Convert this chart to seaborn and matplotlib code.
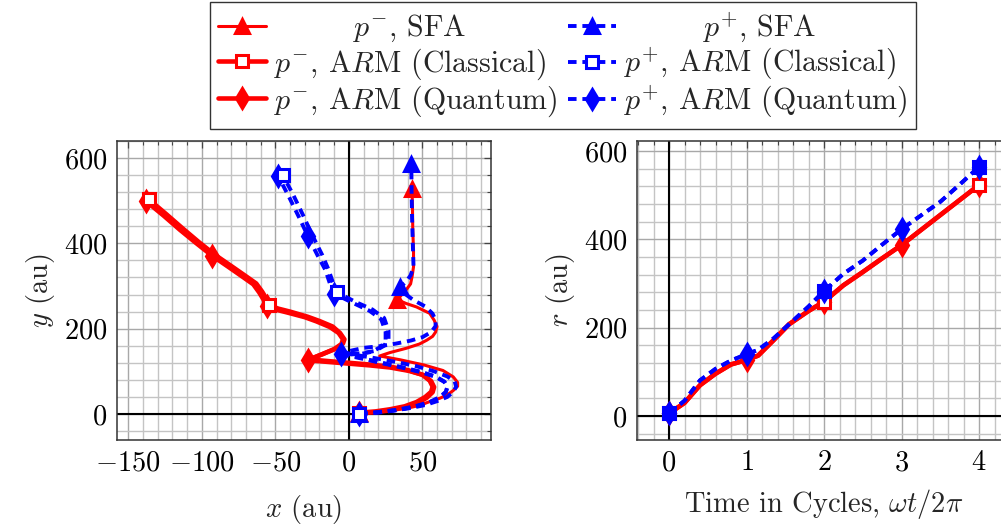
import numpy as np
import matplotlib
matplotlib.use("Agg")
import matplotlib.pyplot as plt
from matplotlib.lines import Line2D
from matplotlib.ticker import MultipleLocator
import seaborn as sns

# ---- trajectories in the (x, y) plane, atomic units ----
# p^- : ARM classical / quantum (nearly coincident) and SFA
red_cl_x = [7, 18, 28, 38, 46, 52, 56, 57, 55, 50, 40, 28, 14, 0, -14, -27,
            -18, -9, -4, -3, -6, -11, -20, -28, -40, -48, -54,
            -56, -59, -63, -70, -80, -91, -102, -113, -124, -136]
red_cl_y = [3, 6, 11, 18, 28, 40, 52, 64, 78, 92, 103, 111, 116, 120, 124, 128,
            140, 153, 165, 175, 190, 205, 218, 228, 240, 247, 255,
            270, 287, 306, 323, 347, 373, 403, 435, 468, 503]
red_qu_x = [7, 18, 29, 39, 47, 53, 57, 58, 56, 51, 41, 28, 14, 0, -14, -28,
            -19, -10, -5, -4, -7, -13, -22, -30, -42, -50, -56,
            -58, -61, -65, -72, -82, -93, -104, -115, -126, -138]
red_qu_y = [2, 4, 9, 16, 26, 38, 51, 63, 77, 91, 101, 109, 114, 118, 122, 126,
            139, 152, 164, 175, 190, 204, 217, 227, 238, 245, 252,
            268, 285, 304, 321, 345, 371, 401, 432, 465, 499]
red_sfa_x = [7, 17, 28, 39, 48, 55, 62, 67, 71, 74, 74, 71, 64, 51, 35, 21,
             28, 39, 48, 53, 57, 59, 60, 58, 55, 46, 39, 33,
             36, 39, 42, 43, 44, 44, 43.5, 43.3, 43]
red_sfa_y = [2, 5, 9, 13, 20, 29, 37, 45, 55, 65, 74, 87, 102, 115, 127, 136,
             144, 154, 164, 173, 182, 192, 205, 220, 236, 251, 259, 268,
             280, 291, 305, 322, 345, 384, 430, 480, 527]

# p^+ : ARM classical / quantum and SFA
blue_cl_x = [7, 20, 33, 45, 55, 62, 66, 67, 65, 59, 49, 37, 24, 10, -4,
             8, 18, 24, 27, 27, 24, 16, 5, -8,
             -11, -14, -18, -25, -31, -38, -45]
blue_cl_y = [0, 4, 10, 18, 28, 40, 52, 64, 76, 88, 99, 109, 119, 130, 142,
             142, 148, 160, 175, 195, 225, 245, 262, 285,
             310, 340, 372, 420, 465, 515, 560]
blue_qu_x = [7, 20, 33, 45, 55, 62, 66, 67, 65, 59, 49, 37, 24, 10, -5,
             7, 16, 22, 25, 25, 22, 14, 3, -10,
             -13, -16, -21, -28, -34, -41, -48]
blue_qu_y = [0, 3, 9, 17, 27, 39, 51, 63, 75, 87, 98, 108, 118, 129, 140,
             140, 146, 158, 173, 193, 222, 242, 260, 282,
             307, 338, 370, 418, 462, 511, 557]
blue_sfa_x = [7, 18, 30, 42, 52, 60, 67, 71, 73, 72, 67, 58, 46, 32, 16, 2, -3,
              10, 21, 32, 42, 50, 56, 59, 59, 57, 52, 44, 38, 35,
              39, 42, 44, 43.5, 43, 42.7, 42.5]
blue_sfa_y = [0, 4, 8, 14, 21, 30, 40, 52, 64, 76, 88, 100, 112, 122, 132, 140, 145,
              155, 159, 165, 172, 180, 192, 206, 220, 235, 252, 267, 282, 298,
              310, 325, 345, 400, 460, 520, 585]

# sample indices that fall on whole laser cycles
red_cl_cycles = [0, 26, 36]
red_qu_cycles = [0, 15, 26, 32, 36]
red_sfa_cycles = [0, 27, 36]
blue_cl_cycles = [0, 23, 30]
blue_qu_cycles = [0, 14, 23, 27, 30]
blue_sfa_cycles = [0, 29, 36]

# ---- distance from the origin versus time ----
t_cycles = [0, 0.2, 0.4, 0.6, 0.8, 1.0, 1.15, 1.35, 1.55, 1.8, 2.0,
            2.25, 2.5, 2.75, 3.0, 3.25, 3.5, 3.75, 4.0]
r_minus = [6, 30, 70, 96, 117, 127, 137, 172, 208, 238, 259,
           296, 326, 357, 387, 421, 455, 489, 523]
r_plus = [6, 35, 81, 107, 126, 140, 150, 176, 208, 248, 283,
          322, 352, 388, 423, 454, 485, 524, 564]
t_marks_even = [0, 10, 18]
t_marks_all = [0, 5, 10, 14, 18]

labels = ["$p^{-}$, SFA", "$p^{-}$, A$R$M (Classical)", "$p^{-}$, A$R$M (Quantum)",
          "$p^{+}$, SFA", "$p^{+}$, A$R$M (Classical)", "$p^{+}$, A$R$M (Quantum)"]

sns.set_theme(style="white")
FS = 20.5
plt.rcParams.update({
    "font.family": "serif",
    "font.serif": ["cmr10"],
    "mathtext.fontset": "cm",
    "axes.formatter.use_mathtext": True,
    "font.size": FS,
    "axes.labelsize": FS,
    "xtick.labelsize": FS,
    "ytick.labelsize": FS,
    "legend.fontsize": 21.5,
})

RED = "#ff0000"
BLUE = "#0000ff"
DASH = (0, (2.2, 1.5))

styles = {
    "red_sfa": dict(color=RED, linestyle="-", lw=2.2, marker="^", ms=10,
                    markerfacecolor=RED),
    "red_cl": dict(color=RED, linestyle="-", lw=3.3, marker="s", ms=8,
                   markerfacecolor="white"),
    "red_qu": dict(color=RED, linestyle="-", lw=3.3, marker="d", ms=10,
                   markerfacecolor=RED),
    "blue_sfa": dict(color=BLUE, linestyle=DASH, lw=2.8, marker="^", ms=10,
                     markerfacecolor=BLUE),
    "blue_cl": dict(color=BLUE, linestyle=DASH, lw=2.8, marker="s", ms=8,
                    markerfacecolor="white"),
    "blue_qu": dict(color=BLUE, linestyle=DASH, lw=2.8, marker="d", ms=10,
                    markerfacecolor=BLUE),
}


def trace(ax, x, y, key, marks, z):
    st = styles[key]
    sns.lineplot(x=x, y=y, ax=ax, sort=False, estimator=None, legend=False,
                 color=st["color"], linestyle=st["linestyle"], linewidth=st["lw"],
                 marker=st["marker"], markevery=marks, markersize=st["ms"],
                 markerfacecolor=st["markerfacecolor"],
                 markeredgecolor=st["color"], markeredgewidth=2.2,
                 solid_joinstyle="round", solid_capstyle="round",
                 dash_capstyle="butt", zorder=z)


fig = plt.figure(figsize=(10.01, 5.29), dpi=100)
ax1 = fig.add_axes([117 / 1001, 1 - 440 / 529, 374 / 1001, 299 / 529])
ax2 = fig.add_axes([637 / 1001, 1 - 440 / 529, 373 / 1001, 299 / 529])

for ax in (ax1, ax2):
    ax.set_facecolor("white")
    ax.grid(which="major", color="#a8a8a8", lw=1.0)
    ax.grid(which="minor", color="#c4c4c4", lw=1.0)
    ax.set_axisbelow(True)
    ax.axhline(0, color="black", lw=1.5, zorder=1.5)
    ax.axvline(0, color="black", lw=1.5, zorder=1.5)
    ax.tick_params(which="both", direction="in", top=True, right=True,
                   color="#444444", labelcolor="black")
    ax.tick_params(which="major", length=5, width=0.9, pad=7)
    ax.tick_params(which="minor", length=3, width=0.8)
    for sp in ax.spines.values():
        sp.set_color("#333333")
        sp.set_linewidth(1.1)

# left: trajectories
trace(ax1, red_sfa_x, red_sfa_y, "red_sfa", red_sfa_cycles, 3)
trace(ax1, red_qu_x, red_qu_y, "red_qu", red_qu_cycles, 3.1)
trace(ax1, red_cl_x, red_cl_y, "red_cl", red_cl_cycles, 3.2)
trace(ax1, blue_sfa_x, blue_sfa_y, "blue_sfa", blue_sfa_cycles, 4)
trace(ax1, blue_qu_x, blue_qu_y, "blue_qu", blue_qu_cycles, 4.1)
trace(ax1, blue_cl_x, blue_cl_y, "blue_cl", blue_cl_cycles, 4.2)

ax1.set_xlim(-157.7, 96.7)
ax1.set_ylim(-61, 640)
ax1.xaxis.set_major_locator(MultipleLocator(50))
ax1.xaxis.set_minor_locator(MultipleLocator(10))
ax1.yaxis.set_major_locator(MultipleLocator(200))
ax1.yaxis.set_minor_locator(MultipleLocator(40))
ax1.set_xlabel("$x$ (au)", labelpad=12)
ax1.set_ylabel("$y$ (au)", labelpad=5)

# right: radial distance against time
trace(ax2, t_cycles, r_minus, "red_qu", t_marks_all, 3)
trace(ax2, t_cycles, r_minus, "red_cl", t_marks_even, 3.1)
trace(ax2, t_cycles, r_plus, "blue_cl", t_marks_even, 4)
trace(ax2, t_cycles, r_plus, "blue_qu", t_marks_all, 4.1)

ax2.set_xlim(-0.413, 4.4)
ax2.set_ylim(-54, 622.6)
ax2.xaxis.set_major_locator(MultipleLocator(1))
ax2.xaxis.set_minor_locator(MultipleLocator(0.2))
ax2.yaxis.set_major_locator(MultipleLocator(200))
ax2.yaxis.set_minor_locator(MultipleLocator(40))
ax2.set_xlabel("Time in Cycles, $\\omega t/2\\pi$", labelpad=8)
ax2.set_ylabel("$r$ (au)", labelpad=5)

handles = []
for key in ["red_sfa", "red_cl", "red_qu", "blue_sfa", "blue_cl", "blue_qu"]:
    st = styles[key]
    handles.append(Line2D([], [], color=st["color"], linestyle=st["linestyle"],
                          lw=st["lw"], marker=st["marker"], ms=st["ms"],
                          markerfacecolor=st["markerfacecolor"],
                          markeredgecolor=st["color"], markeredgewidth=2.2))

leg = fig.legend(handles, labels, ncol=2, loc="upper center",
                 bbox_to_anchor=(0.562, 1 - 2 / 529), borderaxespad=0,
                 frameon=True, fancybox=False,
                 edgecolor="#333333", framealpha=1, handlelength=1.6,
                 handletextpad=0.28, columnspacing=0.35, labelspacing=0.06,
                 borderpad=0.28, numpoints=1)
leg.get_frame().set_linewidth(1.0)

# centre the short entries within their legend columns
fig.canvas.draw()
renderer = fig.canvas.get_renderer()
texts = leg.get_texts()
for short_i, long_i in [(0, 1), (3, 4)]:
    base = labels[short_i]
    target = max(texts[long_i].get_window_extent(renderer).width,
                 texts[long_i + 1].get_window_extent(renderer).width)
    w0 = texts[short_i].get_window_extent(renderer).width
    n = 0
    while True:
        texts[short_i].set_text(" " * (n + 1) + base)
        w = texts[short_i].get_window_extent(renderer).width
        if w - w0 > (target - w0) / 2 or n > 60:
            break
        n += 1
    texts[short_i].set_text(" " * n + base)

fig.savefig("out.png", dpi=100)
